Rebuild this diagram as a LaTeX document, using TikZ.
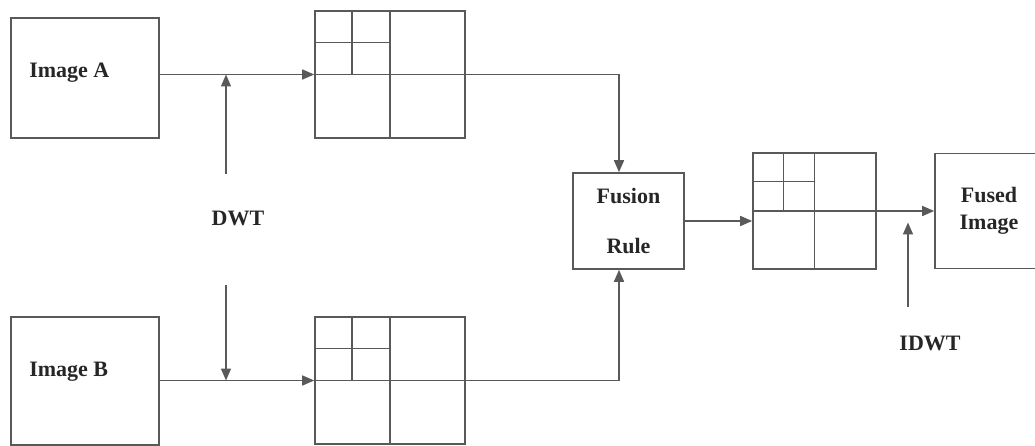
\documentclass[tikz,border=0pt]{standalone}
\usepackage{fontspec}
\setmainfont{Liberation Serif}
\usetikzlibrary{arrows.meta,positioning,calc}

\begin{document}
\begin{tikzpicture}[
    x=1pt, y=-1pt,
    >={Triangle[length=12pt,width=10pt]},
    color=black!65, line width=1.6pt,
    every node/.style={font=\fontsize{22}{27}\selectfont\bfseries, text=black!85},
    box/.style={draw, inner sep=0pt}
]
\clip (0,0) rectangle (1035,446);

\node[box, minimum width=148pt, minimum height=120pt] (imga) at (85,78) {};
\node[anchor=west] (imgatxt) at ([xshift=15pt,yshift=5pt]imga.west) {Image A};
\node[box, minimum width=148pt, minimum height=128pt] (imgb) at (85,381) {};
\node[anchor=west] (imgbtxt) at ([xshift=15pt,yshift=9pt]imgb.west) {Image B};

\node[box, minimum width=150pt, minimum height=127pt] (tdec) at (390,74.5) {};
\node[box, minimum width=150pt, minimum height=127pt] (bdec) at (390,380.5) {};
\node[box, minimum width=111pt, minimum height=96pt, align=center,
      font=\fontsize{22}{50}\selectfont\bfseries] (fuse) at (628.5,221) {Fusion\\Rule};
\node[box, minimum width=123pt, minimum height=116pt] (odec) at (814.5,211) {};
\node[box, minimum width=108pt, minimum height=115pt, align=center] (fused) at (989,211) {Fused\\Image};

\node (dwt) at (238,218) {DWT};
\node (idwt) at (930,343) {IDWT};

% sub-band grid
\foreach \d in {tdec,bdec,odec} {
  \draw (\d.north) -- (\d.south);
  \draw (\d.west) -- (\d.east);
  \draw ($(\d.north west)!0.5!(\d.north)$) -- ($(\d.west)!0.5!(\d.center)$);
  \draw ($(\d.north west)!0.5!(\d.west)$) -- ($(\d.north)!0.5!(\d.center)$);
}

\coordinate (dwta) at (226,174);
\coordinate (dwtb) at (226,285);
\coordinate (idwta) at (908,307);

\draw[->] (tdec.west -| imga.east) -- (tdec.west);
\draw[->] (bdec.west -| imgb.east) -- (bdec.west);
\draw[->] (tdec.east) -| ([xshift=-9.5pt]fuse.north);
\draw[->] (bdec.east) -| ([xshift=-9.5pt]fuse.south);
\draw[->] (fuse.east) -- (fuse.east -| odec.west);
\draw[->] (odec.east) -- (odec.east -| fused.west);

\draw[->] (dwta) -- (dwta |- tdec.west);
\draw[->] (dwtb) -- (dwtb |- bdec.west);
\draw[->] (idwta) -- ([yshift=-11.5pt]idwta |- fused.west);

\end{tikzpicture}
\end{document}
